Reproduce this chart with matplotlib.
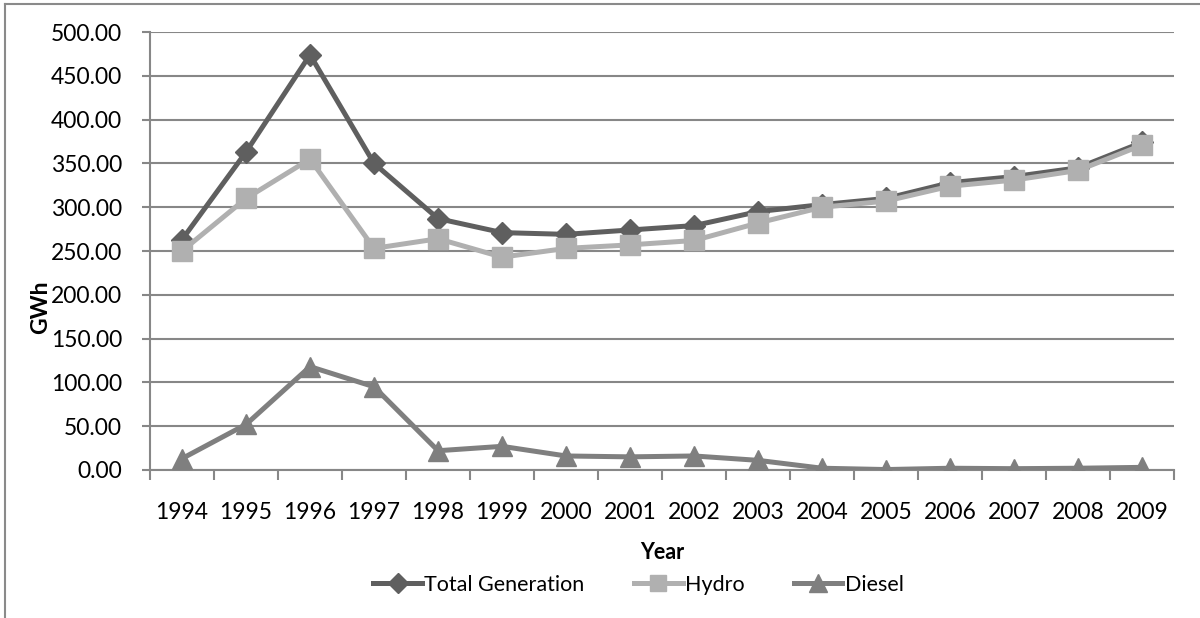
import matplotlib
matplotlib.use("Agg")
import matplotlib.pyplot as plt
from matplotlib.lines import Line2D
from matplotlib.ticker import FuncFormatter, MultipleLocator
import numpy as np

years = ["1994", "1995", "1996", "1997", "1998", "1999", "2000", "2001",
         "2002", "2003", "2004", "2005", "2006", "2007", "2008", "2009"]
total_generation = [263, 363, 474, 350, 287, 271, 269, 274,
                    279, 295, 303, 310, 328, 335, 345, 374]
hydro = [250, 310, 355, 253, 264, 243, 253, 257,
         262, 282, 300, 307, 324, 331, 342, 371]
diesel = [13, 52, 118, 95, 22, 27, 16, 15,
          16, 11, 2, 0.5, 2, 1.5, 2, 3]

plt.rcParams["font.family"] = ["Lato", "DejaVu Sans"]

fig = plt.figure(figsize=(12, 6.18), dpi=100)
ax = fig.add_axes([0.125, 0.2395, 0.8535, 0.7087])

x = np.arange(len(years))
ax.plot(x, total_generation, color="#5f5f5f", lw=3.6, marker="D", ms=11,
        label="Total Generation", zorder=3)
ax.plot(x, hydro, color="#b0b0b0", lw=3.6, marker="s", ms=14.5,
        label="Hydro", zorder=4)
ax.plot(x, diesel, color="#7f7f7f", lw=3.6, marker="^", ms=15,
        label="Diesel", zorder=3)

ax.set_xlim(-0.5, len(years) - 0.5)
ax.set_ylim(0, 500)
ax.yaxis.set_major_locator(MultipleLocator(50))
ax.yaxis.set_major_formatter(FuncFormatter(lambda v, p: f"{v:.2f}"))
ax.set_xticks(x)
ax.set_xticklabels(years)
ax.set_xticks(np.arange(-0.5, len(years)), minor=True)

ax.grid(axis="y", color="#878787", lw=1.5, zorder=0)
ax.set_axisbelow(True)
for side in ("top", "right"):
    ax.spines[side].set_visible(False)
for side in ("left", "bottom"):
    ax.spines[side].set_color("#878787")
    ax.spines[side].set_linewidth(1.5)

ax.tick_params(axis="x", which="major", length=0, pad=23, labelsize=16.5)
ax.tick_params(axis="x", which="minor", length=7, width=1.5, color="#878787",
               direction="out")
ax.tick_params(axis="y", length=6, width=1.5, color="#878787", pad=14,
               labelsize=16.5)

ax.set_xlabel("Year", fontsize=15.5, fontweight="bold")
ax.xaxis.set_label_coords(0.5, -0.1895)
ax.xaxis.label.set_va("center")
ax.set_ylabel("GWh", fontsize=16.5, fontweight="bold")
ax.yaxis.set_label_coords(-0.1064, 0.372)
ax.yaxis.label.set_va("center")

handles = [
    Line2D([], [], color="#5f5f5f", lw=3.6, marker="D", ms=10),
    Line2D([], [], color="#b0b0b0", lw=3.6, marker="s", ms=12),
    Line2D([], [], color="#7f7f7f", lw=3.6, marker="^", ms=13),
]
fig.legend(handles, ["Total Generation", "Hydro", "Diesel"],
           loc="center", bbox_to_anchor=(0.532, 0.0534), ncol=3, frameon=False,
           fontsize=15.5, handlelength=2.26, handletextpad=0.1,
           columnspacing=2.3)

# chart area border (left and top edges)
fig.add_artist(Line2D([5 / 1200, 5 / 1200], [0, 1 - 4 / 618],
                      transform=fig.transFigure, color="#8a8a8a", lw=1.5))
fig.add_artist(Line2D([5 / 1200, 1], [1 - 4 / 618, 1 - 4 / 618],
                      transform=fig.transFigure, color="#8a8a8a", lw=1.5))

fig.savefig("out.png", dpi=100, facecolor="white")
